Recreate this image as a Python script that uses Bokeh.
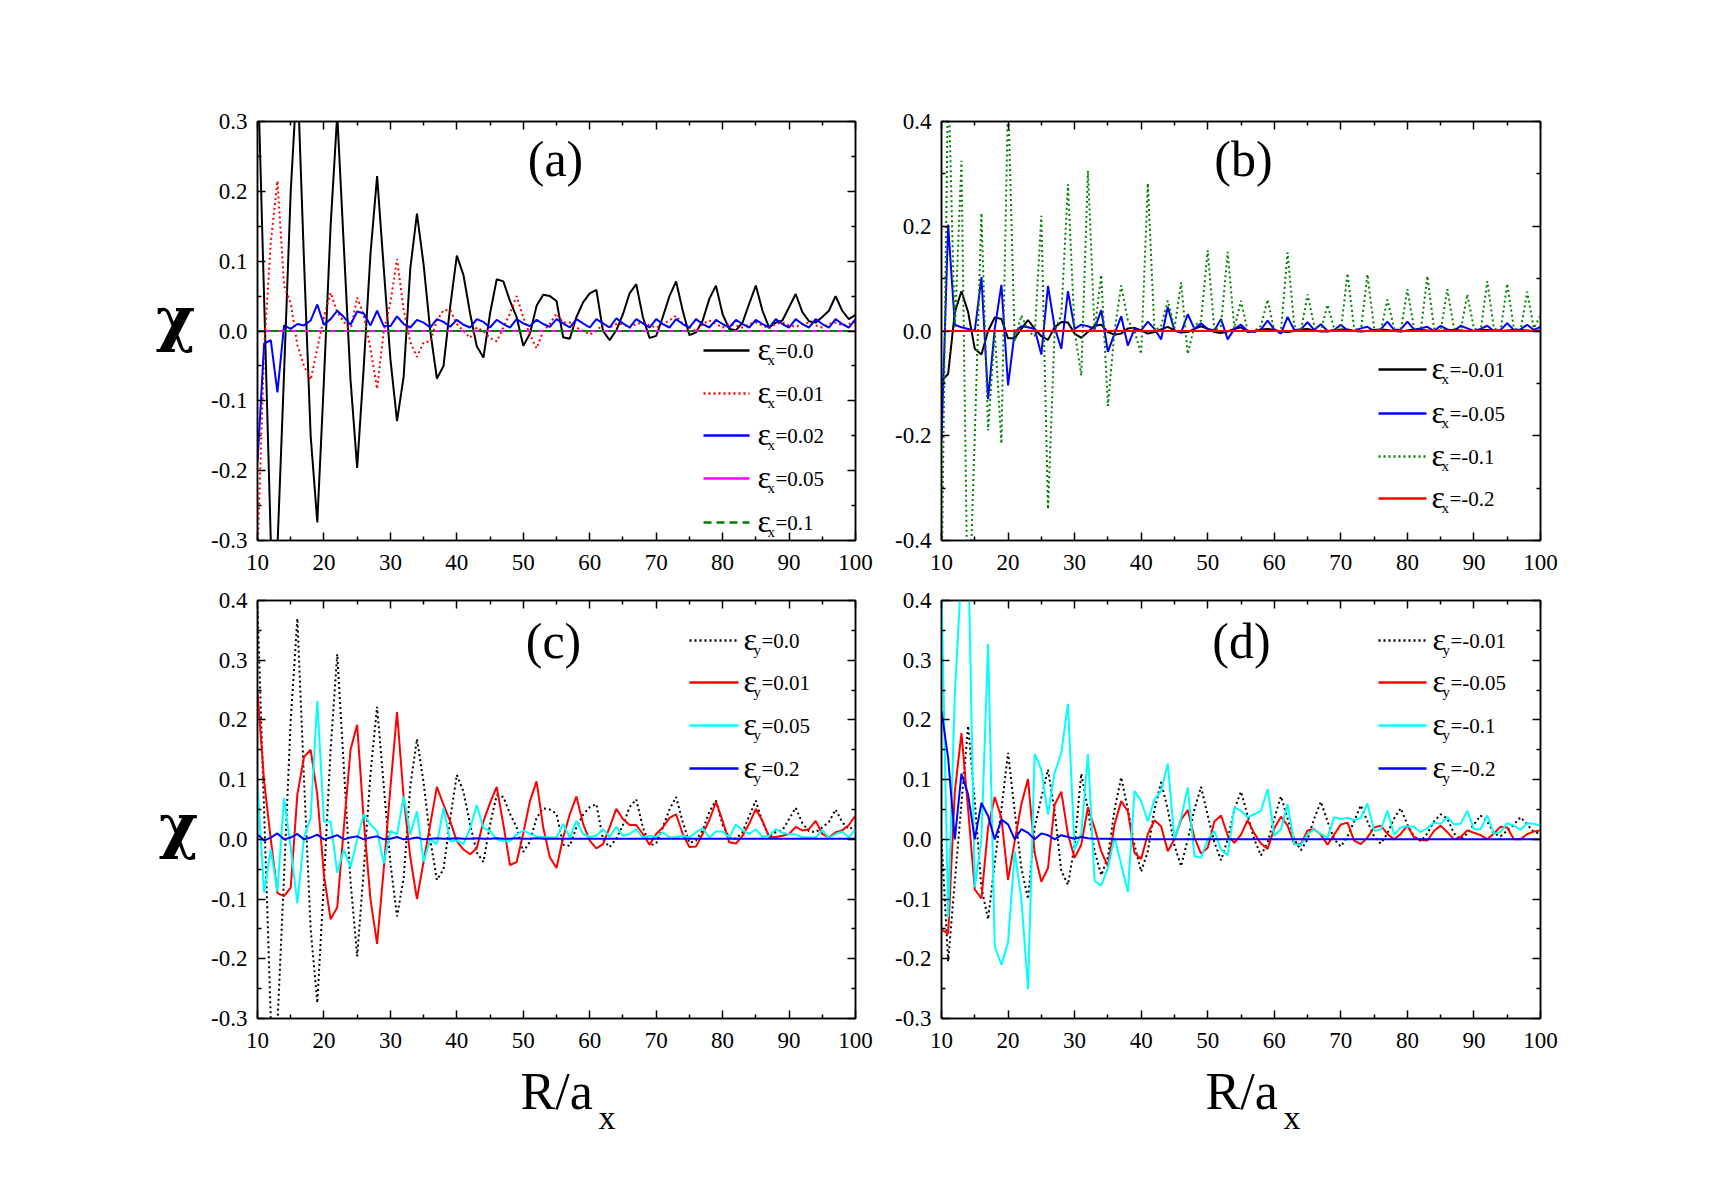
from bokeh.plotting import figure
from bokeh.layouts import row, column
from bokeh.models import FixedTicker, LinearAxis, Label, PrintfTickFormatter, Range1d
from bokeh.embed import file_html
from bokeh.resources import INLINE

# separation R/a_x, sampled on the integer grid 10..100
R = list(range(10, 101))

# chi(R) for the unstrained lattice (eps = 0), shared by panels (a) and (c)
chi_eps0 = [
    0.39, 0.045, -0.30, -0.31, -0.06, 0.20, 0.37, 0.10, -0.15, -0.274,
    -0.07, 0.15, 0.31, 0.12, -0.07, -0.196, -0.05, 0.11, 0.222, 0.09,
    -0.04, -0.129, -0.065, 0.09, 0.168, 0.095, 0.0, -0.068, -0.05, 0.035,
    0.108, 0.08, 0.025, -0.022, -0.038, 0.025, 0.074, 0.071, 0.043, 0.02,
    -0.021, -0.004, 0.036, 0.052, 0.05, 0.043, -0.009, -0.011, 0.02, 0.041,
    0.054, 0.059, 0.0, -0.013, 0.001, 0.024, 0.054, 0.067, 0.02, -0.01,
    -0.007, 0.02, 0.05, 0.071, 0.029, -0.006, -0.002, 0.015, 0.046, 0.065,
    0.024, 0.003, 0.001, 0.012, 0.039, 0.065, 0.029, 0.005, 0.012, 0.015,
    0.034, 0.053, 0.027, 0.014, 0.012, 0.02, 0.029, 0.05, 0.029, 0.017,
    0.023]

# (a) strain along x, eps_x > 0
chi_ex_001 = [
    -0.32, -0.026, 0.127, 0.215, 0.065, 0.04, -0.02, -0.05, -0.07, -0.025,
    0.02, 0.055, 0.027, 0.013, 0.0, 0.048, 0.022, -0.025, -0.083, 0.0,
    0.04, 0.103, 0.03, -0.016, -0.037, -0.016, -0.015, 0.015, 0.03, 0.03,
    0.01, 0.0, -0.01, 0.005, 0.0, -0.01, -0.015, 0.005, 0.025, 0.05,
    0.02, -0.005, -0.025, 0.0, 0.01, 0.025, 0.012, 0.012, 0.005, 0.0,
    -0.005, 0.0, 0.01, 0.005, 0.01, 0.01, 0.005, 0.01, 0.012, 0.008,
    0.005, 0.01, 0.015, 0.022, 0.01, 0.005, 0.0, 0.01, 0.015, 0.01,
    0.005, 0.01, 0.008, 0.005, 0.01, 0.012, 0.008, 0.004, 0.01, 0.012,
    0.008, 0.006, 0.01, 0.012, 0.008, 0.005, 0.01, 0.012, 0.008, 0.01,
    0.012]
chi_ex_002 = [
    -0.188, -0.018, -0.013, -0.088, 0.008, 0.003, 0.01, 0.008, 0.015, 0.038,
    0.009, 0.017, 0.029, 0.02, 0.009, 0.028, 0.025, 0.008, 0.029, 0.007,
    0.007, 0.021, 0.01, 0.005, 0.016, 0.012, 0.005, 0.017, 0.013, 0.006,
    0.016, 0.009, 0.005, 0.017, 0.013, 0.005, 0.016, 0.01, 0.005, 0.017,
    0.011, 0.007, 0.016, 0.01, 0.006, 0.017, 0.011, 0.005, 0.017, 0.011,
    0.005, 0.017, 0.011, 0.005, 0.018, 0.011, 0.005, 0.017, 0.011, 0.005,
    0.017, 0.01, 0.005, 0.017, 0.01, 0.005, 0.017, 0.01, 0.005, 0.016,
    0.01, 0.005, 0.016, 0.01, 0.005, 0.016, 0.01, 0.005, 0.017, 0.01,
    0.005, 0.017, 0.01, 0.005, 0.017, 0.01, 0.005, 0.017, 0.01, 0.005,
    0.017]
chi_ex_005 = [
    0.0, 0.0, 0.0, 0.0, 0.0, 0.0, 0.0, 0.0, 0.0, 0.0,
    0.0, 0.0, 0.0, 0.0, 0.0, 0.0, 0.0, 0.0, 0.0, 0.0,
    0.0, 0.0, 0.0, 0.0, 0.0, 0.0, 0.0, 0.0, 0.0, 0.0,
    0.0, 0.0, 0.0, 0.0, 0.0, 0.0, 0.0, 0.0, 0.0, 0.0,
    0.0, 0.0, 0.0, 0.0, 0.0, 0.0, 0.0, 0.0, 0.0, 0.0,
    0.0, 0.0, 0.0, 0.0, 0.0, 0.0, 0.0, 0.0, 0.0, 0.0,
    0.0, 0.0, 0.0, 0.0, 0.0, 0.0, 0.0, 0.0, 0.0, 0.0,
    0.0, 0.0, 0.0, 0.0, 0.0, 0.0, 0.0, 0.0, 0.0, 0.0,
    0.0, 0.0, 0.0, 0.0, 0.0, 0.0, 0.0, 0.0, 0.0, 0.0,
    0.0]
chi_ex_01 = [
    0.0, 0.0, 0.0, 0.0, 0.0, 0.0, 0.0, 0.0, 0.0, 0.0,
    0.0, 0.0, 0.0, 0.0, 0.0, 0.0, 0.0, 0.0, 0.0, 0.0,
    0.0, 0.0, 0.0, 0.0, 0.0, 0.0, 0.0, 0.0, 0.0, 0.0,
    0.0, 0.0, 0.0, 0.0, 0.0, 0.0, 0.0, 0.0, 0.0, 0.0,
    0.0, 0.0, 0.0, 0.0, 0.0, 0.0, 0.0, 0.0, 0.0, 0.0,
    0.0, 0.0, 0.0, 0.0, 0.0, 0.0, 0.0, 0.0, 0.0, 0.0,
    0.0, 0.0, 0.0, 0.0, 0.0, 0.0, 0.0, 0.0, 0.0, 0.0,
    0.0, 0.0, 0.0, 0.0, 0.0, 0.0, 0.0, 0.0, 0.0, 0.0,
    0.0, 0.0, 0.0, 0.0, 0.0, 0.0, 0.0, 0.0, 0.0, 0.0,
    0.0]

# (b) strain along x, eps_x < 0
chi_ex_m001 = [
    -0.095, -0.082, 0.036, 0.076, 0.036, -0.034, -0.045, 0.0, 0.026, 0.023,
    -0.014, -0.014, 0.004, 0.021, 0.004, -0.01, -0.017, 0.007, 0.017, 0.016,
    -0.005, -0.013, -0.002, 0.01, 0.012, -0.002, -0.007, -0.005, 0.005, 0.006,
    0.001, -0.005, -0.002, 0.003, 0.008, 0.001, -0.003, -0.002, 0.004, 0.009,
    0.004, -0.002, -0.004, -0.001, 0.004, 0.007, -0.002, 0.0, 0.003, 0.004,
    0.002, -0.001, -0.002, 0.0, 0.003, 0.004, 0.001, -0.001, -0.001, 0.001,
    0.003, 0.003, 0.0, -0.001, 0.0, 0.002, 0.003, 0.002, 0.0, -0.001,
    0.001, 0.003, 0.002, 0.001, 0.0, 0.0, 0.002, 0.002, 0.001, 0.0,
    0.0, 0.002, 0.002, 0.001, 0.0, 0.001, 0.002, 0.002, 0.001, 0.0,
    0.001]
chi_ex_m005 = [
    -0.21, 0.203, 0.012, 0.007, 0.004, 0.0, 0.103, -0.13, 0.004, 0.088,
    -0.104, -0.002, 0.009, 0.007, 0.004, -0.045, 0.086, 0.007, -0.034, 0.076,
    0.004, 0.012, 0.009, 0.004, 0.04, -0.04, -0.005, 0.028, -0.028, 0.004,
    0.001, 0.018, 0.004, -0.016, 0.046, 0.001, -0.003, 0.032, 0.004, 0.015,
    0.004, 0.001, 0.023, -0.016, 0.004, 0.012, 0.0, -0.002, 0.003, 0.02,
    0.003, -0.005, 0.027, 0.002, 0.003, 0.017, 0.002, 0.013, 0.0, 0.002,
    0.012, 0.001, 0.0, 0.005, 0.008, 0.0, 0.003, 0.018, 0.002, 0.003,
    0.018, 0.003, 0.005, 0.008, 0.0, 0.01, 0.003, 0.0, 0.01, 0.005,
    0.0, 0.004, 0.01, 0.0, 0.002, 0.015, 0.002, 0.003, 0.012, 0.002,
    0.008]
chi_ex_m01 = [
    -0.5, 0.5, 0.0, 0.325, -0.6, -0.2, 0.225, -0.19, 0.0, -0.215,
    0.45, -0.02, 0.03, 0.0, -0.01, 0.22, -0.34, 0.0, 0.03, 0.28,
    0.0, -0.085, 0.306, 0.0, 0.107, -0.143, 0.0, 0.087, 0.02, 0.0,
    -0.044, 0.282, 0.0, 0.01, 0.058, 0.005, 0.093, -0.044, 0.01, 0.02,
    0.154, 0.0, 0.01, 0.151, 0.005, 0.058, 0.0, 0.0, 0.01, 0.06,
    0.0, 0.0, 0.15, 0.01, 0.0, 0.07, 0.01, 0.0, 0.05, 0.005,
    0.0, 0.11, 0.005, 0.0, 0.108, 0.005, 0.0, 0.06, 0.005, 0.0,
    0.08, 0.005, 0.0, 0.105, 0.005, 0.0, 0.08, 0.005, 0.0, 0.07,
    0.005, 0.0, 0.095, 0.005, 0.0, 0.09, 0.005, 0.0, 0.075, 0.005,
    0.03]
chi_ex_m02 = [
    0.0, 0.0, 0.0, 0.0, 0.0, 0.0, 0.0, 0.0, 0.0, 0.0,
    0.0, 0.0, 0.0, 0.0, 0.0, 0.0, 0.0, 0.0, 0.0, 0.0,
    0.0, 0.0, 0.0, 0.0, 0.0, 0.0, 0.0, 0.0, 0.0, 0.0,
    0.0, 0.0, 0.0, 0.0, 0.0, 0.0, 0.0, 0.0, 0.0, 0.0,
    0.0, 0.0, 0.0, 0.0, 0.0, 0.0, 0.0, 0.0, 0.0, 0.0,
    0.0, 0.0, 0.0, 0.0, 0.0, 0.0, 0.0, 0.0, 0.0, 0.0,
    0.0, 0.0, 0.0, 0.0, 0.0, 0.0, 0.0, 0.0, 0.0, 0.0,
    0.0, 0.0, 0.0, 0.0, 0.0, 0.0, 0.0, 0.0, 0.0, 0.0,
    0.0, 0.0, 0.0, 0.0, 0.0, 0.0, 0.0, 0.0, 0.0, 0.0,
    0.0]

# (c) strain along y, eps_y > 0
chi_ey_001 = [
    0.248, 0.097, 0.0, -0.09, -0.095, -0.081, 0.075, 0.138, 0.15, 0.075,
    -0.06, -0.134, -0.114, 0.02, 0.15, 0.192, 0.03, -0.1, -0.175, -0.05,
    0.086, 0.213, 0.07, -0.03, -0.1, -0.037, 0.025, 0.088, 0.058, 0.03,
    -0.003, -0.017, -0.025, -0.015, 0.03, 0.061, 0.088, 0.025, -0.043, -0.038,
    0.01, 0.064, 0.097, 0.02, -0.03, -0.048, 0.003, 0.042, 0.072, 0.026,
    -0.002, -0.015, -0.008, 0.02, 0.051, 0.034, 0.024, 0.024, 0.009, -0.009,
    0.009, 0.02, 0.036, 0.042, 0.009, -0.013, -0.012, 0.009, 0.032, 0.063,
    0.031, -0.005, -0.007, 0.006, 0.026, 0.051, 0.031, 0.004, 0.004, 0.006,
    0.009, 0.021, 0.015, 0.017, 0.031, 0.009, 0.003, 0.012, 0.015, 0.024,
    0.04]
chi_ey_005 = [
    0.089, -0.089, -0.017, -0.087, 0.069, -0.014, -0.107, 0.003, 0.036, 0.232,
    0.03, 0.03, -0.056, -0.017, -0.047, 0.0, 0.042, 0.025, 0.014, -0.04,
    0.014, 0.008, 0.072, 0.008, 0.047, -0.037, 0.0, -0.008, 0.053, -0.003,
    -0.002, -0.008, 0.019, 0.057, 0.019, 0.014, 0.0, -0.003, -0.003, 0.008,
    0.015, 0.009, 0.005, 0.004, 0.003, 0.003, 0.026, 0.003, 0.031, 0.009,
    0.004, 0.006, 0.017, 0.004, 0.021, 0.006, 0.009, 0.017, 0.003, 0.006,
    0.004, 0.012, 0.003, 0.004, 0.006, 0.003, 0.012, 0.019, 0.003, 0.013,
    0.013, 0.003, 0.025, 0.015, 0.009, 0.017, 0.004, 0.006, 0.017, 0.011,
    0.009, 0.008, 0.004, 0.003, 0.003, 0.016, 0.002, 0.009, 0.013, 0.003,
    0.017]
chi_ey_02 = [
    0.008, -0.002, 0.003, 0.01, 0.0, 0.003, 0.009, 0.0, 0.003, 0.008,
    0.0, 0.003, 0.007, 0.0, 0.003, 0.005, 0.0, 0.003, 0.005, 0.0,
    0.001, 0.004, 0.0, 0.001, 0.003, 0.0, 0.001, 0.002, 0.001, 0.001,
    0.002, 0.001, 0.001, 0.002, 0.001, 0.001, 0.002, 0.001, 0.001, 0.002,
    0.001, 0.001, 0.002, 0.001, 0.001, 0.001, 0.001, 0.001, 0.001, 0.001,
    0.001, 0.001, 0.001, 0.001, 0.001, 0.001, 0.001, 0.001, 0.001, 0.001,
    0.001, 0.001, 0.001, 0.001, 0.001, 0.001, 0.001, 0.001, 0.001, 0.001,
    0.001, 0.001, 0.001, 0.001, 0.001, 0.001, 0.001, 0.001, 0.001, 0.001,
    0.001, 0.001, 0.001, 0.001, 0.001, 0.001, 0.001, 0.001, 0.001, 0.001,
    0.001]

# (d) strain along y, eps_y < 0
chi_ey_m001 = [
    0.0, -0.204, -0.07, 0.06, 0.19, 0.064, -0.081, -0.134, -0.04, 0.05,
    0.145, 0.047, -0.048, -0.1, 0.02, 0.07, 0.117, 0.047, -0.053, -0.076,
    -0.01, 0.11, 0.05, -0.02, -0.06, -0.03, 0.05, 0.104, 0.05, -0.01,
    -0.054, -0.02, 0.05, 0.096, 0.05, -0.01, -0.045, 0.0, 0.05, 0.088,
    0.04, -0.005, -0.035, 0.0, 0.05, 0.08, 0.04, 0.0, -0.027, -0.005,
    0.035, 0.072, 0.035, 0.0, -0.018, 0.0, 0.035, 0.063, 0.03, 0.0,
    -0.012, 0.005, 0.03, 0.057, 0.03, 0.005, -0.007, 0.01, 0.035, 0.052,
    0.025, 0.005, -0.003, 0.01, 0.03, 0.042, 0.035, 0.01, 0.0, 0.01,
    0.025, 0.04, 0.03, 0.01, 0.005, 0.015, 0.025, 0.037, 0.025, 0.012,
    0.01]
chi_ey_m005 = [
    -0.151, -0.158, 0.08, 0.178, 0.05, -0.084, -0.099, 0.02, 0.071, 0.036,
    -0.068, -0.003, 0.059, 0.101, -0.023, -0.071, -0.048, 0.058, 0.08, 0.008,
    -0.031, -0.009, 0.054, 0.019, -0.02, -0.045, 0.025, 0.064, 0.047, -0.023,
    -0.033, 0.009, 0.032, 0.022, -0.02, 0.0, 0.033, 0.049, 0.003, -0.024,
    -0.014, 0.03, 0.04, 0.007, -0.006, 0.008, 0.032, 0.01, -0.007, -0.016,
    0.018, 0.038, 0.023, -0.008, -0.008, 0.015, 0.017, 0.008, -0.009, 0.008,
    0.025, 0.028, -0.002, -0.008, 0.003, 0.02, 0.023, 0.009, 0.0, 0.009,
    0.023, 0.003, -0.001, -0.002, 0.014, 0.023, 0.012, 0.0, 0.004, 0.015,
    0.011, 0.007, 0.0, 0.01, 0.021, 0.02, 0.0, 0.0, 0.009, 0.013,
    0.015]
chi_ey_m01 = [
    0.42, -0.131, 0.243, 0.45, 0.5, -0.08, 0.0, 0.327, -0.179, -0.21,
    -0.173, -0.02, -0.1, -0.251, 0.143, 0.117, 0.042, 0.111, 0.145, 0.227,
    -0.017, 0.008, 0.143, -0.07, -0.077, -0.048, 0.003, -0.042, -0.088, 0.081,
    0.064, 0.03, 0.067, 0.081, 0.127, 0.0, 0.036, 0.087, -0.028, -0.031,
    0.0, 0.014, -0.017, -0.027, 0.053, 0.048, 0.037, 0.042, 0.048, 0.084,
    0.006, 0.017, 0.059, -0.008, -0.01, 0.009, 0.017, 0.009, 0.003, 0.037,
    0.034, 0.036, 0.032, 0.036, 0.06, 0.015, 0.016, 0.048, 0.008, 0.02,
    0.022, 0.021, 0.012, 0.019, 0.028, 0.026, 0.037, 0.025, 0.026, 0.048,
    0.017, 0.017, 0.04, 0.009, 0.013, 0.027, 0.023, 0.016, 0.027, 0.026,
    0.023]
chi_ey_m02 = [
    0.215, 0.136, 0.0, 0.11, 0.075, 0.0, 0.061, 0.039, 0.0, 0.033,
    0.025, 0.0, 0.017, 0.011, 0.0, 0.01, 0.007, 0.0, 0.007, 0.004,
    0.001, 0.004, 0.002, 0.001, 0.001, 0.001, 0.0, 0.0, 0.0, 0.0,
    0.0, 0.0, 0.0, 0.0, 0.0, 0.0, 0.0, 0.0, 0.0, 0.0,
    0.0, 0.0, 0.0, 0.0, 0.0, 0.0, 0.0, 0.0, 0.0, 0.0,
    0.0, 0.0, 0.0, 0.0, 0.0, 0.0, 0.0, 0.0, 0.0, 0.0,
    0.0, 0.0, 0.0, 0.0, 0.0, 0.0, 0.0, 0.0, 0.0, 0.0,
    0.0, 0.0, 0.0, 0.0, 0.0, 0.0, 0.0, 0.0, 0.0, 0.0,
    0.0, 0.0, 0.0, 0.0, 0.0, 0.0, 0.0, 0.0, 0.0, 0.0,
    0.0]

x_ticks = [10, 20, 30, 40, 50, 60, 70, 80, 90, 100]

SERIF = "Liberation Serif"
GREEN = "#008000"

# page layout (pixels): a left strip for the chi labels, a bottom strip for R/a_x
PAGE_W, PAGE_H = 1713, 1198
STRIP_W = 205
TOP_H, MID_H = 585, 475
BOT_H = PAGE_H - TOP_H - MID_H
COL1_W = 880 - STRIP_W
COL2_W = PAGE_W - 880


def add_label(p, x, y, s, size, bold=False, align="left", font=SERIF):
    p.add_layout(Label(x=x, y=y, text=s, text_font=font, text_font_size=size,
                       text_color="black", text_font_style="bold" if bold else "normal",
                       text_align=align, text_baseline="middle"))


class Panel:
    """A figure whose plot frame sits at a fixed place on the page."""

    def __init__(self, fig_left, fig_top, width, height, left, top, fw, fh,
                 yr, yticks, yminor):
        self.left, self.top, self.fw, self.fh = left, top, fw, fh
        self.yr = yr
        p = figure(width=width, height=height,
                   x_range=Range1d(10, 100), y_range=Range1d(*yr),
                   output_backend="svg", toolbar_location=None,
                   min_border_left=left - fig_left,
                   min_border_right=width - (left - fig_left) - fw,
                   min_border_top=top - fig_top,
                   min_border_bottom=height - (top - fig_top) - fh)
        p.grid.visible = False
        p.outline_line_color = "black"
        p.outline_line_width = 1.5
        p.background_fill_color = "white"
        p.border_fill_color = "white"
        xt = FixedTicker(ticks=x_ticks, minor_ticks=[15, 25, 35, 45, 55, 65, 75, 85, 95])
        yt = FixedTicker(ticks=yticks, minor_ticks=yminor)
        bottom_ax = p.below[0]
        left_ax = p.left[0]
        bottom_ax.ticker = xt
        left_ax.ticker = yt
        left_ax.formatter = PrintfTickFormatter(format="%.1f")
        top_ax = LinearAxis(ticker=xt)
        right_ax = LinearAxis(ticker=yt)
        p.add_layout(top_ax, "above")
        p.add_layout(right_ax, "right")
        for ax in (bottom_ax, left_ax, top_ax, right_ax):
            ax.major_tick_in = 8
            ax.major_tick_out = 0
            ax.minor_tick_in = 4
            ax.minor_tick_out = 0
            ax.axis_line_width = 1.5
            ax.major_tick_line_width = 1.5
            ax.minor_tick_line_width = 1.5
            ax.axis_line_color = "black"
            ax.major_tick_line_color = "black"
            ax.minor_tick_line_color = "black"
            ax.major_label_text_font = SERIF
            ax.major_label_text_font_size = "23px"
            ax.major_label_text_color = "black"
        bottom_ax.major_label_standoff = 14
        left_ax.major_label_standoff = 10
        # mirrored tick marks on the top and right edges carry no numbers
        for ax in (top_ax, right_ax):
            ax.major_label_text_font_size = "1px"
            ax.major_label_text_color = None
            ax.major_label_standoff = 0
        self.p = p

    def data(self, px, py):
        """Page pixel -> data coordinates of this frame."""
        x = 10 + (px - self.left) / self.fw * 90
        y0, y1 = self.yr
        y = y1 - (py - self.top) / self.fh * (y1 - y0)
        return x, y

    def text(self, px, py, s, size, align="left"):
        x, y = self.data(px, py)
        add_label(self.p, x, y, s, size, align=align)

    def series(self, ys, color, dash="solid", width=2):
        self.p.line(R, ys, line_color=color, line_width=width, line_dash=dash)

    def legend(self, entries, sub, x0, x1, tx, rows):
        for (label, color, dash), ly in zip(entries, rows):
            xa, ya = self.data(x0, ly)
            xb, _ = self.data(x1, ly)
            self.p.line([xa, xb], [ya, ya], line_color=color, line_width=2.5, line_dash=dash)
            self.text(tx, ly - 2, "\u03b5", "32px")
            self.text(tx + 10, ly + 9, sub, "15px")
            self.text(tx + 18, ly, label, "21px")


def strip(x0, y0, w, h):
    """Blank figure whose data coordinates are page pixels."""
    s = figure(width=w, height=h, x_range=Range1d(x0, x0 + w), y_range=Range1d(y0 + h, y0),
               output_backend="svg", toolbar_location=None,
               x_axis_type=None, y_axis_type=None,
               min_border_left=0, min_border_right=0, min_border_top=0, min_border_bottom=0)
    s.grid.visible = False
    s.outline_line_color = None
    s.background_fill_color = "white"
    s.border_fill_color = "white"
    return s


pa = Panel(STRIP_W, 0, COL1_W, TOP_H, 257, 121, 598, 419, (-0.3, 0.3),
           [-0.3, -0.2, -0.1, 0.0, 0.1, 0.2, 0.3], [-0.25, -0.15, -0.05, 0.05, 0.15, 0.25])
pb = Panel(880, 0, COL2_W, TOP_H, 941, 121, 599, 419, (-0.4, 0.4),
           [-0.4, -0.2, 0.0, 0.2, 0.4], [-0.3, -0.1, 0.1, 0.3])
pc = Panel(STRIP_W, TOP_H, COL1_W, MID_H, 257, 600, 598, 418, (-0.3, 0.4),
           [-0.3, -0.2, -0.1, 0.0, 0.1, 0.2, 0.3, 0.4],
           [-0.25, -0.15, -0.05, 0.05, 0.15, 0.25, 0.35])
pd = Panel(880, TOP_H, COL2_W, MID_H, 941, 600, 599, 418, (-0.3, 0.4),
           [-0.3, -0.2, -0.1, 0.0, 0.1, 0.2, 0.3, 0.4],
           [-0.25, -0.15, -0.05, 0.05, 0.15, 0.25, 0.35])

# (a)
pa.series(chi_eps0, "black")
pa.series(chi_ex_001, "red", "2 3")
pa.series(chi_ex_002, "blue")
pa.series(chi_ex_005, "magenta")
pa.series(chi_ex_01, GREEN, "8 5")
pa.legend([("=0.0", "black", "solid"), ("=0.01", "red", "2 3"), ("=0.02", "blue", "solid"),
           ("=0.05", "magenta", "solid"), ("=0.1", GREEN, "8 5")],
          "x", 703, 749, 757, [350, 393, 435, 478, 522])
pa.text(555, 158, "(a)", "50px", align="center")

# (b)
pb.series(chi_ex_m001, "black")
pb.series(chi_ex_m005, "blue")
pb.series(chi_ex_m01, GREEN, "2 3")
pb.series(chi_ex_m02, "red")
pb.legend([("=-0.01", "black", "solid"), ("=-0.05", "blue", "solid"),
           ("=-0.1", GREEN, "2 3"), ("=-0.2", "red", "solid")],
          "x", 1378, 1426, 1431, [369, 413, 456, 498])
pb.text(1243, 158, "(b)", "50px", align="center")

# (c)
pc.series(chi_eps0, "black", "2 3")
pc.series(chi_ey_001, "red")
pc.series(chi_ey_005, "cyan")
pc.series(chi_ey_02, "blue")
pc.legend([("=0.0", "black", "2 3"), ("=0.01", "red", "solid"),
           ("=0.05", "cyan", "solid"), ("=0.2", "blue", "solid")],
          "y", 689, 738, 743, [640, 682, 725, 768])
pc.text(553, 640, "(c)", "50px", align="center")

# (d)
pd.series(chi_ey_m001, "black", "2 3")
pd.series(chi_ey_m005, "red")
pd.series(chi_ey_m01, "cyan")
pd.series(chi_ey_m02, "blue")
pd.legend([("=-0.01", "black", "2 3"), ("=-0.05", "red", "solid"),
           ("=-0.1", "cyan", "solid"), ("=-0.2", "blue", "solid")],
          "y", 1378, 1426, 1432, [640, 682, 725, 768])
pd.text(1241, 640, "(d)", "50px", align="center")

# axis titles
left_strip = strip(0, 0, STRIP_W, PAGE_H)
add_label(left_strip, 175, 318, "\u03c7", "60px", bold=True, align="center", font="DejaVu Serif")
add_label(left_strip, 178, 825, "\u03c7", "60px", bold=True, align="center", font="DejaVu Serif")

bottom_strip = strip(STRIP_W, TOP_H + MID_H, COL1_W + COL2_W, BOT_H)
add_label(bottom_strip, 520, 1091, "R/a", "52px")
add_label(bottom_strip, 598, 1117, "x", "34px")
add_label(bottom_strip, 1205, 1091, "R/a", "52px")
add_label(bottom_strip, 1283, 1117, "x", "34px")

layout = row(left_strip, column(row(pa.p, pb.p), row(pc.p, pd.p), bottom_strip))

open("out.html", "w").write(file_html(layout, INLINE))
